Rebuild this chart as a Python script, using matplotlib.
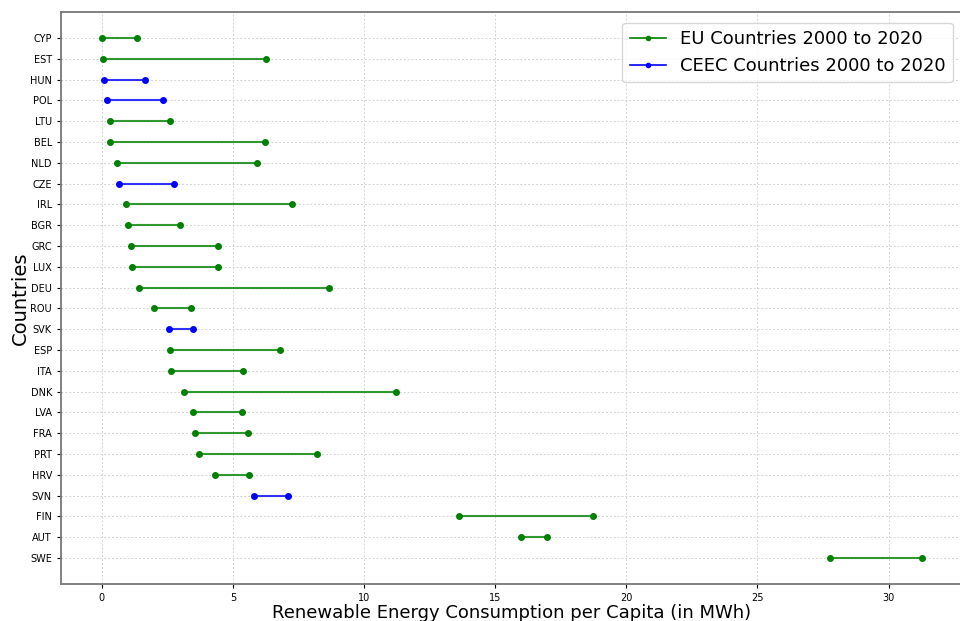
import matplotlib
matplotlib.use("Agg")
import matplotlib.pyplot as plt
from matplotlib.lines import Line2D

# countries sorted by 2000 value (top to bottom)
countries = ["CYP", "EST", "HUN", "POL", "LTU", "BEL", "NLD", "CZE", "IRL", "BGR",
             "GRC", "LUX", "DEU", "ROU", "SVK", "ESP", "ITA", "DNK", "LVA", "FRA",
             "PRT", "HRV", "SVN", "FIN", "AUT", "SWE"]
val_2000 = [0.01, 0.06, 0.09, 0.19, 0.30, 0.33, 0.59, 0.67, 0.94, 0.99,
            1.12, 1.17, 1.41, 1.98, 2.55, 2.61, 2.66, 3.12, 3.49, 3.55,
            3.72, 4.31, 5.81, 13.61, 15.97, 27.78]
val_2020 = [1.33, 6.26, 1.64, 2.32, 2.61, 6.21, 5.91, 2.77, 7.26, 2.98,
            4.44, 4.44, 8.66, 3.39, 3.48, 6.80, 5.38, 11.21, 5.35, 5.57,
            8.22, 5.60, 7.12, 18.75, 16.99, 31.27]
ceec = ["HUN", "POL", "CZE", "SVK", "SVN"]

fig = plt.figure(figsize=(9.6, 6.21), dpi=100)
ax = fig.add_axes([0.0635, 0.0596, 0.9395, 0.9211])

for i, c in enumerate(countries):
    col = "blue" if c in ceec else "green"
    ax.plot([val_2000[i], val_2020[i]], [i, i], color=col, lw=1.5, alpha=0.8, zorder=2)
    ax.scatter([val_2000[i], val_2020[i]], [i, i], color=col, s=16, zorder=3)

ax.set_yticks(range(len(countries)))
ax.set_yticklabels(countries)
ax.invert_yaxis()
ax.tick_params(axis="both", labelsize=7, length=3)
ax.grid(True, linestyle=(0, (2, 2)), color="#d3d3d3", linewidth=0.7, zorder=0)
ax.set_axisbelow(True)
for s in ax.spines.values():
    s.set_color("#777777")
    s.set_linewidth(1.3)

ax.set_xlabel("Renewable Energy Consumption per Capita (in MWh)", fontsize=13, labelpad=1)
ax.set_ylabel("Countries", fontsize=14, labelpad=0)

handles = [Line2D([0], [0], color="green", marker=".", lw=1.2, markersize=6),
           Line2D([0], [0], color="blue", marker=".", lw=1.2, markersize=6)]
ax.legend(handles, ["EU Countries 2000 to 2020", "CEEC Countries 2000 to 2020"],
          loc="upper right", fontsize=13, bbox_to_anchor=(0.999, 0.997))

fig.savefig("out.png", dpi=100)
